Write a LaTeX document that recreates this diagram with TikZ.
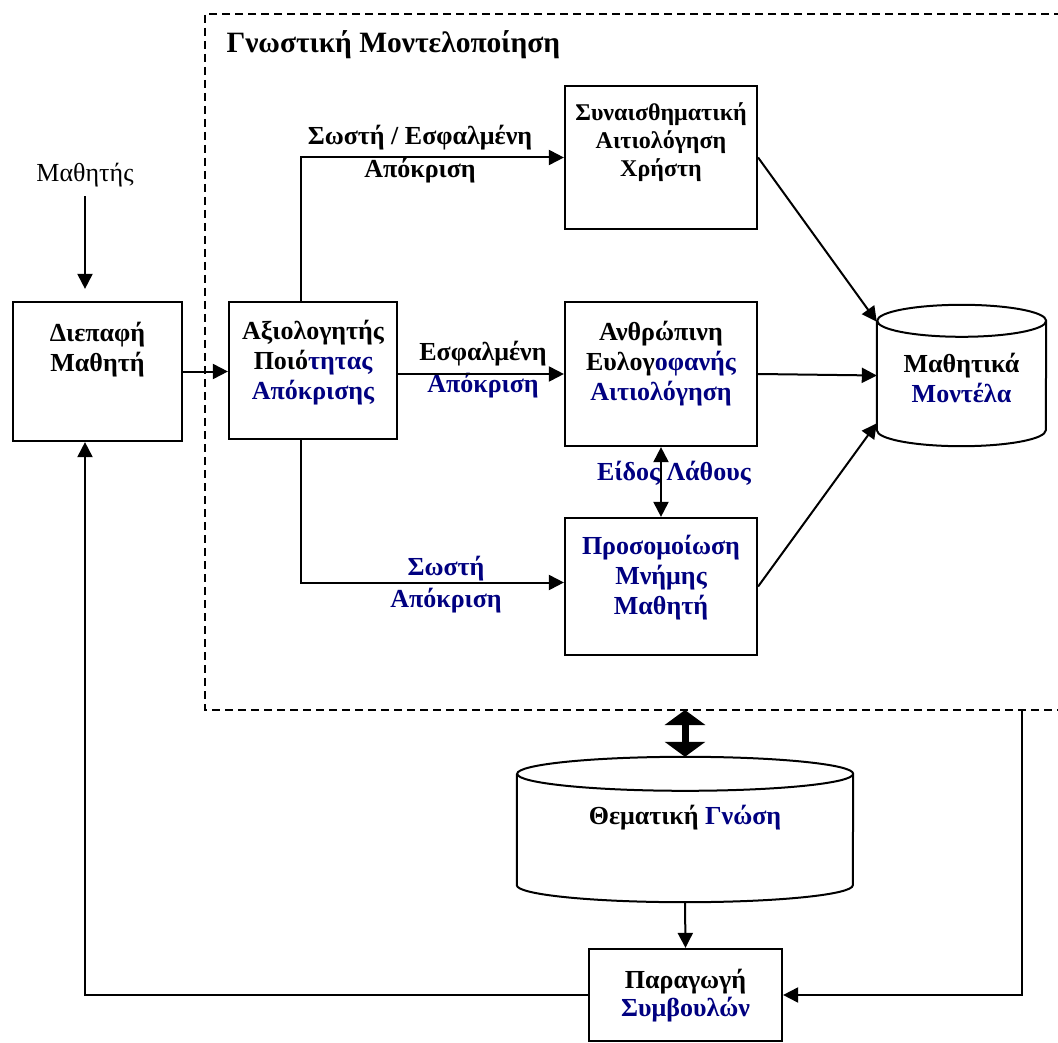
\documentclass[tikz,border=0pt]{standalone}
\usepackage{fontspec}
\setmainfont{Liberation Serif}
\usetikzlibrary{arrows.meta}
\definecolor{navy}{HTML}{000080}

\begin{document}
\begin{tikzpicture}[x=1pt,y=-1pt,
  block/.style={draw,line width=2.2pt,inner sep=0pt},
  blocktext/.style={font=\bfseries\fontsize{26}{30}\selectfont,align=center},
  arc/.style={line width=2pt,-{Triangle[length=15pt,width=15pt]}}]
\def\colA{97.5}
\def\colB{313}
\def\colC{661}
\def\colD{961.5}
\def\colE{685}
\useasboundingbox (0,0) rectangle (1058,1043);
  %\draw[help lines] (0,0) grid[step=50] (1058,1043);

\draw[line width=2pt,dash pattern=on 8pt off 5pt] (1062,14) -- (205,14) -- (205,710) -- (1062,710);
\coordinate (frameS) at (\colE,710);
\coordinate (frameR) at (1022,710);

\path
(\colA,371.5) node [block,minimum width=169,minimum height=139] (iface) {}
(\colB,370.5) node [block,minimum width=168,minimum height=137] (eval) {}
(\colC,157.5) node [block,minimum width=192,minimum height=143] (emo) {}
(\colC,374) node [block,minimum width=192,minimum height=144] (human) {}
(\colC,586.5) node [block,minimum width=192,minimum height=137] (memory) {}
(685.5,995) node [block,minimum width=193,minimum height=92] (advice) {}
(\colD,375.5) node [minimum width=169,minimum height=141] (models) {}
(\colE,829.5) node [minimum width=336,minimum height=145] (domain) {}
;

\draw[line width=2pt] ([yshift=-16pt]models.north west) -- ([yshift=16pt]models.south west)
  arc[start angle=180,end angle=360,x radius=84.5pt,y radius=16pt]
  -- ([yshift=-16pt]models.north east) arc[start angle=0,end angle=360,x radius=84.5pt,y radius=16pt];
\draw[line width=2pt] ([yshift=-17pt]domain.north west) -- ([yshift=17pt]domain.south west)
  arc[start angle=180,end angle=360,x radius=168pt,y radius=17pt]
  -- ([yshift=-17pt]domain.north east) arc[start angle=0,end angle=360,x radius=168pt,y radius=17pt];

\path
(223,45) node [anchor=west,font=\bfseries\fontsize{29.5}{34}\selectfont] (title) {Γνωστική Μοντελοποίηση}
(85,175) node [font=\fontsize{26}{30}\selectfont] (student) {Μαθητής}
(\colA,350) node [blocktext] (ifaceT) {Διεπαφή\\Μαθητή}
(\colB,363) node [blocktext] (evalT) {Αξιολογητής\\Ποιό\textcolor{navy}{τητας}\\\textcolor{navy}{Απόκρισης}}
(\colC,142) node [blocktext,font=\bfseries\fontsize{24}{28}\selectfont] (emoT) {Συναισθηματική\\Αιτιολόγηση\\Χρήστη}
(\colC,364) node [blocktext] (humanT) {Ανθρώπινη\\Ευλογ\textcolor{navy}{οφανής}\\\textcolor{navy}{Αιτιολόγηση}}
(\colC,578) node [blocktext,text=navy] (memoryT) {Προσομοίωση\\Μνήμης\\Μαθητή}
(\colD,378) node [blocktext] (modelsT) {Μαθητικά\\\textcolor{navy}{Μοντέλα}}
(\colE,818) node [blocktext] (domainT) {Θεματική \textcolor{navy}{Γνώση}}
(685.5,996) node [blocktext,font=\bfseries\fontsize{26}{28}\selectfont] (adviceT) {Παραγωγή\\\textcolor{navy}{Συμβουλών}}
(420,154) node [blocktext,font=\bfseries\fontsize{26}{33}\selectfont] (lblAny) {Σωστή / Εσφαλμένη\\Απόκριση}
(483,370) node [blocktext,font=\bfseries\fontsize{26}{32}\selectfont] (lblWrong) {Εσφαλμένη\\\textcolor{navy}{Απόκριση}}
(446,585) node [blocktext,font=\bfseries\fontsize{26}{32}\selectfont,text=navy] (lblRight) {Σωστή\\Απόκριση}
(674,473) node [blocktext,text=navy] (lblErr) {Είδος Λάθους}
;

\draw[arc,shorten <=6pt,shorten >=12pt] (student) -- (student |- iface.north);
\draw[arc] (iface.east) -- (iface.east -| eval.west);
\draw[arc] ([xshift=-12pt]eval.north) |- (emo.west);
\draw[arc] (eval.east |- human.west) -- (human.west);
\draw[arc] ([xshift=-12pt]eval.south) |- ([yshift=4pt]memory.west);
\draw[arc] (emo.east) -- ([yshift=-17pt]models.north west);
\draw[arc] (human.east) -- (models.west);
\draw[arc] (memory.east) -- ([yshift=23pt]models.south west);
\draw[line width=2pt,{Triangle[length=15pt,width=15pt]}-{Triangle[length=15pt,width=15pt]}] (human.south) -- (memory.north);
\draw[line width=7pt,{Triangle[length=15pt,width=40pt]}-{Triangle[length=15pt,width=40pt]}] (frameS) -- (domain.north);
\draw[arc] (domain.south) -- (advice.north);
\draw[arc] (advice.west) -| ([xshift=-12.5pt]iface.south);
\draw[arc] (frameR) |- (advice.east);
\end{tikzpicture}
\end{document}
